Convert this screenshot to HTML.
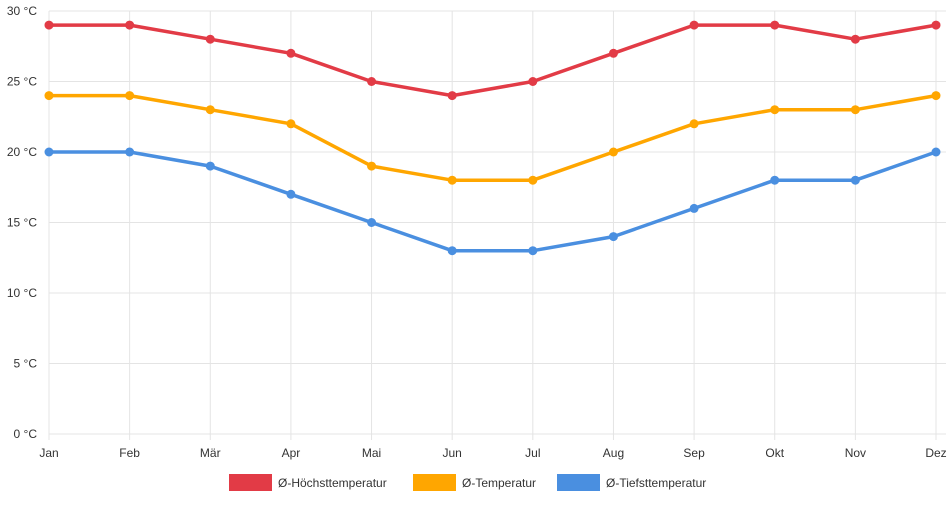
<!DOCTYPE html>
<html><head><meta charset="utf-8"><style>
body{margin:0;background:#fff;font-family:"Liberation Sans",sans-serif;}
svg text{font-family:"Liberation Sans",sans-serif;font-size:12px;fill:#333;}
</style></head><body>
<svg id="chart" width="952" height="500"></svg>
<script>
const months=["Jan","Feb","Mär","Apr","Mai","Jun","Jul","Aug","Sep","Okt","Nov","Dez"];
const highTemps=[29,29,28,27,25,24,25,27,29,29,28,29];
const avgTemps=[24,24,23,22,19,18,18,20,22,23,23,24];
const lowTemps=[20,20,19,17,15,13,13,14,16,18,18,20];
const yTicks=[0,5,10,15,20,25,30];
const seriesNames=["Ø-Höchsttemperatur","Ø-Temperatur","Ø-Tiefsttemperatur"];
const seriesColors=["#e23b46","#ffa600","#4a8fe0"];
const svg=document.getElementById('chart');
const NS="http://www.w3.org/2000/svg";
const x0=49,x1=936,y0=434,y1=11;
const xs=i=>x0+i*(x1-x0)/(months.length-1);
const ys=v=>y0-(v/30)*(y0-y1);
function mk(t,a,p){const e=document.createElementNS(NS,t);for(const k in a)e.setAttribute(k,a[k]);(p||svg).appendChild(e);return e;}
yTicks.forEach(v=>{
 const l=mk('line',{x1:x0,x2:x1+10,y1:ys(v),y2:ys(v),stroke:'#e4e4e4'});
 
 
 const t=mk('text',{x:37,y:ys(v)+4,'text-anchor':'end'});t.textContent=v+" °C";
 
 
});
months.forEach((m,i)=>{
 const l=mk('line',{x1:xs(i),x2:xs(i),y1:y1,y2:y0+6,stroke:'#e4e4e4'});
 
 
 const t=mk('text',{x:xs(i),y:457,'text-anchor':'middle'});t.textContent=m;
 
 
});
[highTemps,avgTemps,lowTemps].forEach((d,s)=>{
 const g=mk('g',{});
 
 
 const p=mk('polyline',{points:d.map((v,i)=>xs(i)+","+ys(v)).join(" "),fill:'none',stroke:seriesColors[s],'stroke-width':3.5,'stroke-linejoin':'round'},g);
 
 
 d.forEach((v,i)=>{const c=mk('circle',{cx:xs(i),cy:ys(v),r:4.5,fill:seriesColors[s]},g);
  
  });
});
const legX=[229,413,557];
seriesNames.forEach((n,s)=>{
 const g=mk('g',{});
 
 
 mk('rect',{x:legX[s],y:474,width:43,height:17,fill:seriesColors[s]},g);
 const t=mk('text',{x:legX[s]+49,y:487},g);t.textContent=n;
});
</script>
</body></html>
